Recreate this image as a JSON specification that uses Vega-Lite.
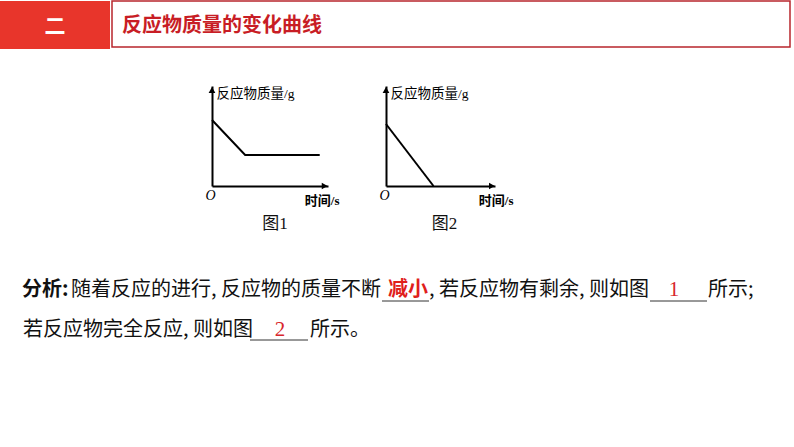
{
  "$schema": "https://vega.github.io/schema/vega-lite/v6.json",
  "background": "white",
  "padding": 0,
  "bounds": "flush",
  "spacing": 0,
  "config": {
    "view": {"stroke": null},
    "font": "Noto Sans CJK SC",
    "axis": {"domainColor": "#000", "domainWidth": 2, "ticks": false, "grid": false}
  },
  "vconcat": [
    {
      "spacing": 2,
      "bounds": "flush",
      "hconcat": [
        {
          "width": 110,
          "height": 48,
          "view": {"fill": "#e8352b", "stroke": null},
          "data": {"values": [{"label": "二"}]},
          "mark": {"type": "text", "color": "white", "fontSize": 21, "fontWeight": "bold", "baseline": "middle", "dy": 2},
          "encoding": {"text": {"field": "label"}}
        },
        {
          "width": 678,
          "height": 46,
          "view": {"fill": "white", "stroke": "#b8262c", "strokeWidth": 1.5},
          "data": {"values": [{"label": "反应物质量的变化曲线"}]},
          "mark": {"type": "text", "color": "#c81d25", "fontSize": 20, "fontWeight": "bold", "align": "left", "baseline": "middle", "x": 10, "dy": 2},
          "encoding": {"text": {"field": "label"}}
        }
      ]
    },
    {"width": 40, "height": 85, "data": {"values": [{}]}, "mark": {"type": "point", "opacity": 0, "size": 0}},
    {
      "spacing": 0,
      "bounds": "flush",
      "hconcat": [
        {"width": 212, "height": 100, "data": {"values": [{}]}, "mark": {"type": "point", "opacity": 0, "size": 0}},
        {
          "width": 116,
          "height": 100,
          "title": {"text": "图1", "orient": "bottom", "anchor": "middle", "font": "Liberation Serif, Noto Sans CJK SC", "fontSize": 17, "fontWeight": "normal", "color": "#111", "offset": 9, "dx": 5},
          "layer": [
            {
              "data": {"values": [{"t": 0, "m": 6.6}, {"t": 4, "m": 3.1}, {"t": 13, "m": 3.1}]},
              "mark": {"type": "line", "color": "#000", "strokeWidth": 2},
              "encoding": {
                "x": {"field": "t", "type": "quantitative", "scale": {"domain": [0, 14], "nice": false},
                  "axis": {"values": [0], "labelExpr": "'O'", "labelFont": "Liberation Serif", "labelFontStyle": "italic", "labelFontSize": 14, "labelColor": "#000", "labelPadding": 2, "labelOffset": -2, "labelFlush": false,
                    "title": "时间/s", "titleX": 127, "titleY": 14, "titleAlign": "right", "titleBaseline": "middle", "titleFont": "Liberation Serif, Noto Sans CJK SC", "titleFontSize": 13, "titleFontWeight": "bold", "titleColor": "#000"}},
                "y": {"field": "m", "type": "quantitative", "scale": {"domain": [0, 10], "nice": false},
                  "axis": {"labels": false, "title": "反应物质量/g", "titleAngle": 0, "titleX": 4, "titleY": 7, "titleAlign": "left", "titleBaseline": "middle", "titleFont": "Liberation Serif, Noto Sans CJK SC", "titleFontSize": 13.5, "titleFontWeight": "normal", "titleColor": "#000"}}
              }
            },
            {
              "data": {"values": [{"t": 0, "m": 9.6, "dir": "up"}, {"t": 13.6, "m": 0, "dir": "right"}]},
              "mark": {"type": "point", "filled": true, "color": "#000", "opacity": 1, "size": 45},
              "encoding": {
                "x": {"field": "t", "type": "quantitative"},
                "y": {"field": "m", "type": "quantitative"},
                "shape": {"field": "dir", "type": "nominal", "scale": {"domain": ["up", "right"], "range": ["triangle-up", "triangle-right"]}, "legend": null}
              }
            }
          ]
        },
        {"width": 58, "height": 100, "data": {"values": [{}]}, "mark": {"type": "point", "opacity": 0, "size": 0}},
        {
          "width": 109,
          "height": 100,
          "title": {"text": "图2", "orient": "bottom", "anchor": "middle", "font": "Liberation Serif, Noto Sans CJK SC", "fontSize": 17, "fontWeight": "normal", "color": "#111", "offset": 9, "dx": 4},
          "layer": [
            {
              "data": {"values": [{"t": 0, "m": 6.2}, {"t": 6.1, "m": 0}]},
              "mark": {"type": "line", "color": "#000", "strokeWidth": 2},
              "encoding": {
                "x": {"field": "t", "type": "quantitative", "scale": {"domain": [0, 14], "nice": false},
                  "axis": {"values": [0], "labelExpr": "'O'", "labelFont": "Liberation Serif", "labelFontStyle": "italic", "labelFontSize": 14, "labelColor": "#000", "labelPadding": 2, "labelOffset": -2, "labelFlush": false,
                    "title": "时间/s", "titleX": 127, "titleY": 14, "titleAlign": "right", "titleBaseline": "middle", "titleFont": "Liberation Serif, Noto Sans CJK SC", "titleFontSize": 13, "titleFontWeight": "bold", "titleColor": "#000"}},
                "y": {"field": "m", "type": "quantitative", "scale": {"domain": [0, 10], "nice": false},
                  "axis": {"labels": false, "title": "反应物质量/g", "titleAngle": 0, "titleX": 4, "titleY": 7, "titleAlign": "left", "titleBaseline": "middle", "titleFont": "Liberation Serif, Noto Sans CJK SC", "titleFontSize": 13.5, "titleFontWeight": "normal", "titleColor": "#000"}}
              }
            },
            {
              "data": {"values": [{"t": 0, "m": 9.6, "dir": "up"}, {"t": 13.6, "m": 0, "dir": "right"}]},
              "mark": {"type": "point", "filled": true, "color": "#000", "opacity": 1, "size": 45},
              "encoding": {
                "x": {"field": "t", "type": "quantitative"},
                "y": {"field": "m", "type": "quantitative"},
                "shape": {"field": "dir", "type": "nominal", "scale": {"domain": ["up", "right"], "range": ["triangle-up", "triangle-right"]}, "legend": null}
              }
            }
          ]
        }
      ]
    },
    {"width": 40, "height": 137, "data": {"values": [{}]}, "mark": {"type": "point", "opacity": 0, "size": 0}},
    {
      "width": 794,
      "height": 225,
      "data": {"values": [{}]},
      "layer": [
        {"mark": {"type": "text", "text": "分析:", "x": 22, "y": 67, "align": "left", "baseline": "middle", "fontSize": 20, "fontWeight": "bold", "color": "#111"}},
        {"mark": {"type": "text", "text": "随着反应的进行, 反应物的质量不断", "x": 71, "y": 67, "align": "left", "baseline": "middle", "fontSize": 20, "color": "#111"}},
        {"mark": {"type": "rule", "color": "#333", "strokeWidth": 1}, "encoding": {"x": {"value": 382}, "x2": {"value": 429}, "y": {"value": 78}}},
        {"mark": {"type": "text", "text": "减小", "x": 388, "y": 67, "align": "left", "baseline": "middle", "fontSize": 20, "fontWeight": "bold", "color": "#e0201b"}},
        {"mark": {"type": "text", "text": ", 若反应物有剩余, 则如图", "x": 429, "y": 67, "align": "left", "baseline": "middle", "fontSize": 20, "color": "#111"}},
        {"mark": {"type": "rule", "color": "#333", "strokeWidth": 1}, "encoding": {"x": {"value": 650}, "x2": {"value": 707}, "y": {"value": 78}}},
        {"mark": {"type": "text", "text": "1", "x": 674, "y": 67, "align": "center", "baseline": "middle", "font": "Liberation Serif", "fontSize": 21, "color": "#d8262c"}},
        {"mark": {"type": "text", "text": "所示;", "x": 708, "y": 67, "align": "left", "baseline": "middle", "fontSize": 20, "color": "#111"}},
        {"mark": {"type": "text", "text": "若反应物完全反应, 则如图", "x": 23, "y": 107, "align": "left", "baseline": "middle", "fontSize": 20, "color": "#111"}},
        {"mark": {"type": "rule", "color": "#333", "strokeWidth": 1}, "encoding": {"x": {"value": 250}, "x2": {"value": 308}, "y": {"value": 117}}},
        {"mark": {"type": "text", "text": "2", "x": 280, "y": 107, "align": "center", "baseline": "middle", "font": "Liberation Serif", "fontSize": 21, "color": "#d8262c"}},
        {"mark": {"type": "text", "text": "所示。", "x": 310, "y": 107, "align": "left", "baseline": "middle", "fontSize": 20, "color": "#111"}}
      ]
    }
  ]
}
